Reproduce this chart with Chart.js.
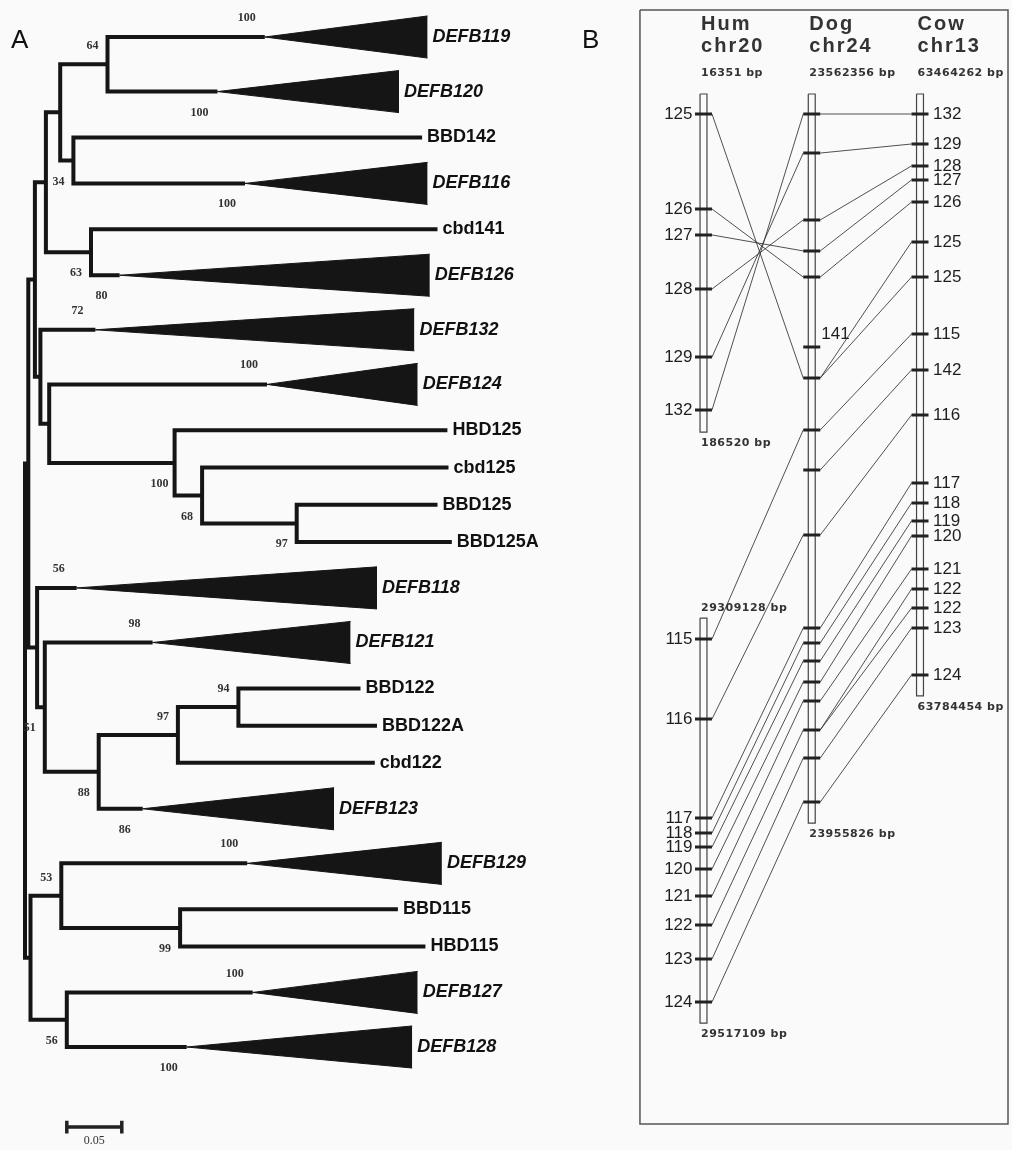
<!DOCTYPE html>
<html lang="en">
<head>
<meta charset="UTF-8">
<title>DEFB tree and synteny map</title>
<script src="https://cdn.jsdelivr.net/npm/chart.js"></script>
<style>
  html, body { margin: 0; padding: 0; background: #fafafa; }
  #wrap { width: 1012px; height: 1150px; }
</style>
</head>
<body>
<div id="wrap"><canvas id="fig" width="1012" height="1150"></canvas></div>
<script>
// ---------- Panel A: neighbour-joining tree ----------
// leaves from top to bottom; branch = length from parent node to tip (or to clade apex)
const leafNames = ['DEFB119', 'DEFB120', 'BBD142', 'DEFB116', 'cbd141', 'DEFB126', 'DEFB132', 'DEFB124',
  'HBD125', 'cbd125', 'BBD125', 'BBD125A', 'DEFB118', 'DEFB121', 'BBD122', 'BBD122A', 'cbd122', 'DEFB123',
  'DEFB129', 'BBD115', 'HBD115', 'DEFB127', 'DEFB128'];
const leafParent = ['N107', 'N107', 'N73', 'N73', 'N91', 'N91', 'N41', 'N50',
  'N175', 'N203', 'N297', 'N297', 'N37', 'N45', 'N238', 'N238', 'N178', 'N99',
  'N62', 'N181', 'N181', 'N67', 'N67'];
const leafBranch = [0.143, 0.100, 0.317, 0.156, 0.315, 0.026, 0.050, 0.198,
  0.248, 0.224, 0.128, 0.141, 0.036, 0.098, 0.111, 0.126, 0.179, 0.040,
  0.169, 0.198, 0.223, 0.169, 0.109];
// depth of collapsed clades (0 = single sequence)
const cladeDepth = [0.148, 0.165, 0, 0.166, 0, 0.282, 0.290, 0.137,
  0, 0, 0, 0, 0.273, 0.180, 0, 0, 0, 0.174,
  0.177, 0, 0, 0.150, 0.205];
const cladeSupport = [100, 100, null, 100, null, 80, 72, 100,
  null, null, null, null, 56, 98, null, null, null, 86,
  100, null, null, 100, 100];
const cladeSupportSide = ['a', 'b', '', 'b', '', 'b', 'a', 'a',
  '', '', '', '', 'a', 'a', '', '', '', 'b',
  'a', '', '', 'a', 'b'];

// internal nodes (parents listed before children)
const nodeIds = ['root', 'Nc', 'Nb', 'N46', 'N60', 'N107', 'N73', 'N91', 'N41', 'N50', 'N175', 'N203', 'N297',
  'N37', 'N45', 'N99', 'N178', 'N238', 'N31', 'N62', 'N181', 'N67'];
const nodeParent = [null, 'root', 'Nc', 'Nb', 'N46', 'N60', 'N60', 'N46', 'Nb', 'N41', 'N50', 'N175', 'N203',
  'Nc', 'N37', 'N45', 'N99', 'N178', 'root', 'N31', 'N62', 'N31'];
const nodeBranch = [0, 0.003, 0.006, 0.010, 0.013, 0.043, 0.012, 0.041, 0.005, 0.008, 0.114, 0.025, 0.086,
  0.008, 0.007, 0.049, 0.072, 0.055, 0.005, 0.028, 0.108, 0.033];
const nodeSupport = [null, null, null, null, null, 64, 34, 63, null, null, 100, 68, 97,
  null, 51, 88, 97, 94, null, 53, 99, 56];
const nodeSupportSide = ['', '', '', '', '', 'a', 'b', 'b', '', '', 'b', 'b', 'b',
  '', 'b', 'b', 'a', 'a', '', 'a', 'b', 'b'];
const scaleBarLength = 0.05;

// ---------- Panel B: synteny map (positions along the drawn map, kb) ----------
const columnHeads = [['Hum', 'chr20'], ['Dog', 'chr24'], ['Cow', 'chr13']];
const segColumn = [0, 0, 1, 2];
const segFrom = [0, 272.5, 0, 0];
const segTo = [175.8, 483.1, 379.1, 313.0];
const segStartBp = ['16351 bp', '29309128 bp', '23562356 bp', '63464262 bp'];
const segEndBp = ['186520 bp', '29517109 bp', '23955826 bp', '63784454 bp'];

const humGenes = ['125', '126', '127', '128', '129', '132', '115', '116', '117', '118', '119', '120', '121', '122', '123', '124'];
const humPos = [10.4, 59.8, 73.3, 101.4, 136.8, 164.3, 283.4, 325.0, 376.5, 384.3, 391.6, 403.0, 417.0, 432.1, 449.8, 472.2];
const dogGenes = ['132', '129', '128', '127', '126', '141', '125', '115', '142', '116', '117', '118', '119', '120', '121', '122', '123', '124'];
const dogPos = [10.4, 30.7, 65.5, 81.6, 95.2, 131.6, 147.7, 174.7, 195.5, 229.3, 277.7, 285.5, 294.8, 305.8, 315.6, 330.7, 345.3, 368.2];
const dogLabelled = ['141'];
const cowGenes = ['132', '129', '128', '127', '126', '125', '125', '115', '142', '116', '117', '118', '119', '120', '121', '122', '122', '123', '124'];
const cowPos = [10.4, 26.0, 37.4, 44.7, 56.2, 77.0, 95.2, 124.8, 143.5, 166.9, 202.3, 212.7, 222.0, 229.8, 247.0, 257.4, 267.3, 277.7, 302.1];

// ---------- layout / style ----------
const INK = '#151515';
const TRI_HALF = 0.565;      // clade triangle half height, in rows
const BAR_HALF = 0.032;      // chromosome bar half width, in columns
const TICK_HALF = 0.0785;    // gene tick half width, in columns

// tree geometry
const depth = {};
nodeIds.forEach((id, i) => {
  const p = nodeParent[i];
  depth[id] = (p ? depth[p] : 0) + nodeBranch[i];
});
const halfRow = i => (cladeDepth[i] > 0 ? 0.733 : 0.5);
const leafRow = [];
leafNames.forEach((n, i) => {
  leafRow.push(i === 0 ? 0 : leafRow[i - 1] + halfRow(i - 1) + halfRow(i));
});
const lastRow = leafRow[leafRow.length - 1];

const kids = {};
nodeIds.forEach(id => { kids[id] = []; });
nodeIds.forEach((id, i) => { if (nodeParent[i]) kids[nodeParent[i]].push({ node: id }); });
leafNames.forEach((n, i) => { kids[leafParent[i]].push({ leaf: i }); });

const nodeRow = {};
function rowOf(k) { return k.leaf !== undefined ? leafRow[k.leaf] : nodeRowOf(k.node); }
function nodeRowOf(id) {
  if (nodeRow[id] === undefined) {
    const r = kids[id].map(rowOf);
    nodeRow[id] = (Math.min(...r) + Math.max(...r)) / 2;
  }
  return nodeRow[id];
}
function endOf(k) { return k.leaf !== undefined ? depth[leafParent[k.leaf]] + leafBranch[k.leaf] : depth[k.node]; }

function seg(data, xAxisID, yAxisID, o) {
  return Object.assign({
    data, xAxisID, yAxisID, showLine: true, pointRadius: 0, pointHoverRadius: 0,
    borderJoinStyle: 'miter', borderCapStyle: 'butt', fill: false, tension: 0
  }, o);
}

const datasets = [];

// branches: one elbow per internal node
nodeIds.forEach(id => {
  const ks = kids[id].slice().sort((a, b) => rowOf(a) - rowOf(b));
  const x = depth[id];
  const first = ks[0], last = ks[ks.length - 1];
  const pts = [
    { x: endOf(first), y: rowOf(first) }, { x, y: rowOf(first) },
    { x, y: rowOf(last) }, { x: endOf(last), y: rowOf(last) }
  ];
  ks.slice(1, -1).forEach(k => { pts.push({ x: null, y: null }, { x, y: rowOf(k) }, { x: endOf(k), y: rowOf(k) }); });
  datasets.push(seg(pts, 'xt', 'yt', { borderWidth: 4, borderColor: INK }));
});

// collapsed clades as filled triangles
leafNames.forEach((n, i) => {
  if (!(cladeDepth[i] > 0)) return;
  const apex = depth[leafParent[i]] + leafBranch[i];
  const tip = apex + cladeDepth[i];
  const r = leafRow[i];
  datasets.push(seg([{ x: apex, y: r }, { x: tip, y: r - TRI_HALF }], 'xt', 'yt',
    { borderWidth: 1, borderColor: INK, backgroundColor: INK, fill: '+1' }));
  datasets.push(seg([{ x: apex, y: r }, { x: tip, y: r + TRI_HALF }], 'xt', 'yt',
    { borderWidth: 1, borderColor: INK }));
});

// scale bar
const sbX = 0.038, sbRow = lastRow + 2.15, cap = 0.17;
datasets.push(seg([
  { x: sbX, y: sbRow - cap }, { x: sbX, y: sbRow + cap }, { x: sbX, y: sbRow },
  { x: sbX + scaleBarLength, y: sbRow }, { x: sbX + scaleBarLength, y: sbRow - cap }, { x: sbX + scaleBarLength, y: sbRow + cap }
], 'xt', 'yt', { borderWidth: 3.5, borderColor: '#222' }));

// ---------- panel B datasets ----------
const colGenes = [humGenes, dogGenes, cowGenes];
const colPos = [humPos, dogPos, cowPos];

// gene ticks
colPos.forEach((pos, c) => {
  const pts = [];
  pos.forEach(v => { pts.push({ x: c - TICK_HALF, y: v }, { x: c + TICK_HALF, y: v }, { x: null, y: null }); });
  datasets.push(seg(pts, 'xm', 'ym', { borderWidth: 3, borderColor: '#222' }));
});

// orthology links between neighbouring columns
for (let c = 0; c < 2; c++) {
  const pts = [];
  colGenes[c].forEach((g, i) => {
    colGenes[c + 1].forEach((h, j) => {
      if (g === h) {
        pts.push({ x: c + TICK_HALF, y: colPos[c][i] }, { x: c + 1 - TICK_HALF, y: colPos[c + 1][j] }, { x: null, y: null });
      }
    });
  });
  datasets.push(seg(pts, 'xm', 'ym', { borderWidth: 1, borderColor: 'rgba(50,50,50,0.85)' }));
}

// chromosome bars
segColumn.forEach((c, s) => {
  datasets.push(seg([
    { x: c - BAR_HALF, y: segFrom[s] }, { x: c + BAR_HALF, y: segFrom[s] },
    { x: c + BAR_HALF, y: segTo[s] }, { x: c - BAR_HALF, y: segTo[s] }, { x: c - BAR_HALF, y: segFrom[s] }
  ], 'xm', 'ym', { borderWidth: 1.2, borderColor: '#444' }));
});

// frame of panel B
const fx0 = -0.587, fx1 = 2.813, fy0 = -43.7, fy1 = 535.6;
datasets.push(seg([
  { x: fx0, y: fy0 }, { x: fx1, y: fy0 }, { x: fx1, y: fy1 }, { x: fx0, y: fy1 }, { x: fx0, y: fy0 }
], 'xm', 'ym', { borderWidth: 1.5, borderColor: '#555' }));

// ---------- text ----------
const labelPlugin = {
  id: 'figureText',
  afterDatasetsDraw(chart) {
    const { ctx } = chart;
    const { xt, yt, xm, ym } = chart.scales;
    ctx.save();
    ctx.textBaseline = 'middle';

    // panel letters
    ctx.fillStyle = '#111';
    ctx.font = '26px "Liberation Sans", Arial, sans-serif';
    ctx.textAlign = 'left';
    ctx.fillText('A', 11, 41);
    ctx.fillText('B', 582, 41);

    // leaf labels
    leafNames.forEach((name, i) => {
      const end = depth[leafParent[i]] + leafBranch[i] + cladeDepth[i];
      ctx.font = (cladeDepth[i] > 0 ? 'italic bold ' : 'bold ') + '18px "Liberation Sans", Arial, sans-serif';
      ctx.fillStyle = '#111';
      ctx.fillText(name, xt.getPixelForValue(end) + 5, yt.getPixelForValue(leafRow[i]));
    });

    // bootstrap values
    ctx.font = 'bold 12px "Liberation Serif", "Times New Roman", serif';
    ctx.textAlign = 'center';
    ctx.fillStyle = '#333';
    nodeIds.forEach((id, i) => {
      if (nodeSupport[i] === null) return;
      const x = xt.getPixelForValue(depth[id]) - 15;
      const y = yt.getPixelForValue(nodeRowOf(id)) + (nodeSupportSide[i] === 'a' ? -18 : 21);
      ctx.fillText(String(nodeSupport[i]), x, y);
    });
    leafNames.forEach((n, i) => {
      if (cladeSupport[i] === null) return;
      const apex = depth[leafParent[i]] + leafBranch[i];
      const x = xt.getPixelForValue(apex) - 18;
      const y = yt.getPixelForValue(leafRow[i]) + (cladeSupportSide[i] === 'a' ? -19 : 21);
      ctx.fillText(String(cladeSupport[i]), x, y);
    });

    // scale bar label
    ctx.font = '12px "Liberation Serif", "Times New Roman", serif';
    ctx.fillText(String(scaleBarLength), xt.getPixelForValue(sbX + scaleBarLength / 2), yt.getPixelForValue(sbRow) + 14);

    // panel B headers and bp labels
    ctx.textAlign = 'left';
    ctx.fillStyle = '#333';
    const seen = {};
    segColumn.forEach((c, s) => {
      const left = xm.getPixelForValue(c - BAR_HALF) + 1;
      const top = ym.getPixelForValue(segFrom[s]);
      const bottom = ym.getPixelForValue(segTo[s]);
      const firstInCol = !seen[c];
      seen[c] = true;
      if (firstInCol) {
        ctx.font = 'bold 20px "Liberation Sans", Arial, sans-serif';
        ctx.letterSpacing = '2px';
        ctx.fillText(columnHeads[c][0], left, top - 70);
        ctx.fillText(columnHeads[c][1], left, top - 48);
      }
      ctx.font = 'bold 11px "DejaVu Sans", sans-serif';
      ctx.letterSpacing = '0.5px';
      ctx.fillText(segStartBp[s], left, top - (firstInCol ? 21 : 10));
      ctx.fillText(segEndBp[s], left, bottom + 11);
    });
    ctx.letterSpacing = '0px';

    // gene labels
    ctx.font = '17px "Liberation Sans", Arial, sans-serif';
    ctx.fillStyle = '#1e1e1e';
    ctx.textAlign = 'right';
    humGenes.forEach((g, i) => {
      ctx.fillText(g, xm.getPixelForValue(0) - 11, ym.getPixelForValue(humPos[i]));
    });
    ctx.textAlign = 'left';
    cowGenes.forEach((g, i) => {
      ctx.fillText(g, xm.getPixelForValue(2) + 13, ym.getPixelForValue(cowPos[i]));
    });
    dogGenes.forEach((g, i) => {
      if (dogLabelled.indexOf(g) < 0) return;
      ctx.fillText(g, xm.getPixelForValue(1 + TICK_HALF) + 1, ym.getPixelForValue(dogPos[i]) - 13);
    });
    ctx.restore();
  }
};

// scales: tree (xt, yt) and map (xm, ym) share the full canvas
const ROWPX = (1047 - 37) / lastRow;
const KB_PER_PX = 0.52, MAP_TOP = 94;
const COL0 = 703.5, COLPX = 108.25;
const hidden = { type: 'linear', display: false, bounds: 'data' };

new Chart(document.getElementById('fig'), {
  type: 'scatter',
  data: { datasets },
  options: {
    responsive: false,
    animation: false,
    events: [],
    layout: { padding: 0 },
    plugins: { legend: { display: false }, tooltip: { enabled: false } },
    scales: {
      xt: Object.assign({}, hidden, { position: 'bottom', min: -25 / 1100, max: 987 / 1100 }),
      yt: Object.assign({}, hidden, { position: 'left', reverse: true, min: -37 / ROWPX, max: (1150 - 37) / ROWPX }),
      xm: Object.assign({}, hidden, { position: 'bottom', min: -COL0 / COLPX, max: (1012 - COL0) / COLPX }),
      ym: Object.assign({}, hidden, { position: 'left', reverse: true, min: -MAP_TOP * KB_PER_PX, max: (1150 - MAP_TOP) * KB_PER_PX })
    }
  },
  plugins: [labelPlugin]
});
</script>
</body>
</html>
